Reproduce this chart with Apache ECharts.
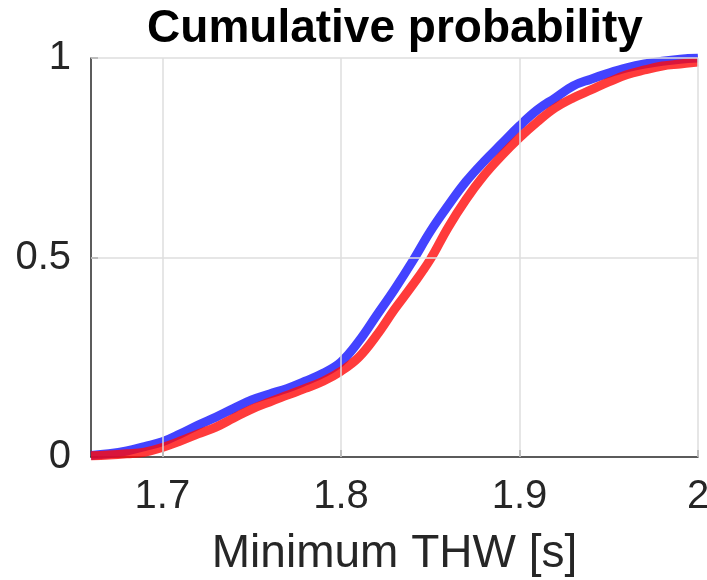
<!DOCTYPE html>
<html>
<head>
<meta charset="utf-8">
<script src="https://cdn.jsdelivr.net/npm/echarts@6/dist/echarts.min.js"></script>
<style>
  html, body { margin: 0; padding: 0; background: #fff; }
  #chart { width: 707px; height: 580px; }
</style>
</head>
<body>
<div id="chart"></div>
<script>
const thw = [1.66, 1.67, 1.68, 1.69, 1.70, 1.71, 1.72, 1.73, 1.74, 1.75, 1.76, 1.77, 1.78, 1.79, 1.80, 1.81, 1.82,
  1.83, 1.84, 1.85, 1.86, 1.87, 1.88, 1.89, 1.90, 1.91, 1.92, 1.93, 1.94, 1.95, 1.96, 1.97, 1.98, 1.99, 2.00];
const blueProb = [0.004, 0.008, 0.015, 0.026, 0.038, 0.058, 0.080, 0.100, 0.122, 0.143, 0.158, 0.172, 0.190, 0.210, 0.238, 0.290, 0.355,
  0.420, 0.490, 0.565, 0.630, 0.690, 0.740, 0.785, 0.830, 0.870, 0.900, 0.930, 0.947, 0.962, 0.975, 0.985, 0.992, 0.997, 1.000];
const redProb = [0.003, 0.005, 0.008, 0.012, 0.024, 0.040, 0.058, 0.075, 0.098, 0.120, 0.138, 0.155, 0.172, 0.190, 0.215, 0.250, 0.305,
  0.370, 0.430, 0.495, 0.575, 0.645, 0.705, 0.755, 0.800, 0.840, 0.875, 0.900, 0.920, 0.940, 0.958, 0.970, 0.980, 0.985, 0.990];
const xTicks = [1.7, 1.8, 1.9, 2];
const yTicks = [0, 0.5, 1];

const axisColor = "#262626";
const gridColor = "#dedede";
const font = "Liberation Sans, Arial, sans-serif";

const chart = echarts.init(document.getElementById("chart"));

const pairs = ys => thw.map((x, i) => [x, ys[i]]);

// grid lines drawn as mark lines so the x ticks can sit off the axis min
const gridLines = [
  ...xTicks.map(v => ({ xAxis: v })),
  ...yTicks.filter(v => v > 0).map(v => ({ yAxis: v }))
];

chart.setOption({
  animation: false,
  title: {
    text: "Cumulative probability",
    left: 390,
    top: 1,
    textAlign: "center",
    textStyle: { fontFamily: font, fontSize: 46, fontWeight: "bold", color: "#000" }
  },
  grid: { left: 91, right: 9, top: 58, bottom: 123, outerBoundsMode: "none" },
  xAxis: {
    type: "value",
    min: 1.66,
    max: 2,
    name: "Minimum THW [s]",
    nameLocation: "middle",
    nameGap: 74,
    nameTextStyle: { fontFamily: font, fontSize: 46, color: axisColor },
    axisLine: { lineStyle: { color: axisColor, width: 1.5 } },
    axisTick: { inside: true, length: 7, customValues: xTicks, lineStyle: { color: axisColor, width: 1.5 } },
    axisLabel: {
      customValues: xTicks,
      margin: 20,
      fontFamily: font,
      fontSize: 40,
      color: axisColor,
      formatter: v => String(v)
    },
    splitLine: { show: false }
  },
  yAxis: {
    type: "value",
    min: 0,
    max: 1,
    interval: 0.5,
    axisLine: { show: true, lineStyle: { color: axisColor, width: 1.5 } },
    axisTick: { show: true, inside: true, length: 7, lineStyle: { color: axisColor, width: 1.5 } },
    axisLabel: { margin: 20, fontFamily: font, fontSize: 40, color: axisColor },
    splitLine: { show: false }
  },
  series: [
    {
      type: "line",
      data: [],
      silent: true,
      markLine: {
        silent: true,
        symbol: "none",
        label: { show: false },
        lineStyle: { color: gridColor, width: 1.5, type: "solid" },
        data: gridLines
      }
    },
    {
      name: "blue",
      type: "line",
      data: pairs(blueProb),
      smooth: 0.4,
      showSymbol: false,
      lineStyle: { color: "rgba(20,20,255,0.8)", width: 9 }
    },
    {
      name: "red",
      type: "line",
      data: pairs(redProb),
      smooth: 0.4,
      showSymbol: false,
      lineStyle: { color: "rgba(255,10,10,0.8)", width: 9 }
    }
  ]
});
window.addEventListener("resize", chart.resize);
</script>
</body>
</html>
